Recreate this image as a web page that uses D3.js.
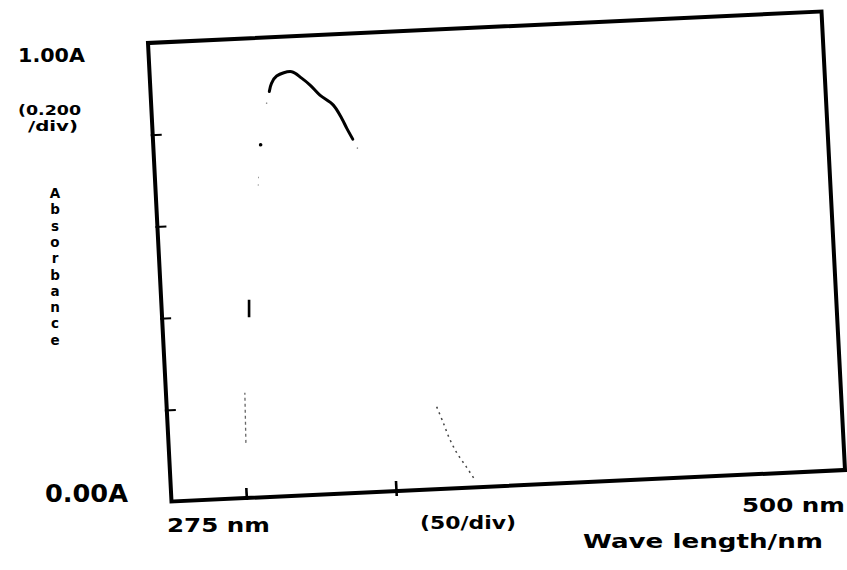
<!DOCTYPE html>
<html>
<head>
<meta charset="utf-8">
<script src="https://cdn.jsdelivr.net/npm/d3@7"></script>
<style>
  body { margin: 0; background: #fff; }
  text { font-family: 'DejaVu Sans', sans-serif; font-weight: bold; fill: #000; }
</style>
</head>
<body>
<div id="chart"></div>
<script>
// axis range and tick marks
var wlRange   = [275, 500];
var absRange  = [0, 1];
var wlTicks   = [300, 350];
var absTicks  = [0.2, 0.4, 0.6, 0.8];

// visible part of the peak (wavelength nm / absorbance)
var peakWl  = [314.6, 315.5, 317.3, 322.4, 325.6, 328.3, 331.4, 335.7, 338.3, 339.8, 341.6];
var peakAbs = [0.882, 0.900, 0.915, 0.923, 0.908, 0.892, 0.869, 0.846, 0.816, 0.794, 0.770];

// faint fragments of the rising edge
var riseLowWl   = [300.8, 301.3];
var riseLowAbs  = [0.120, 0.229];
var riseMidWl   = [304.0, 304.3];
var riseMidAbs  = [0.393, 0.431];
var riseHighWl  = [309.3, 309.6];
var riseHighAbs = [0.678, 0.701];
var specksWl    = [310.8, 313.5, 343.0];
var specksAbs   = [0.767, 0.857, 0.750];

// faint fragment of the falling edge
var fallWl  = [365.0, 366.8, 368.7, 370.9, 373.8, 376.5];
var fallAbs = [0.179, 0.146, 0.109, 0.077, 0.046, 0.016];

drawSpectrum();

function drawSpectrum() {

  var w = 847;
  var h = 570;
  var W = 673.5;
  var H = 458.5;

  var svg = d3.select('#chart').append('svg')
              .attr('width', w)
              .attr('height', h);

  svg.append('rect')
     .attr('width', w)
     .attr('height', h)
     .attr('fill', '#fff');

  // the scanned frame sits a little askew
  var plot = svg.append('g')
                .attr('transform', 'matrix(1,-0.04677,0.05125,1,148,43)');

  var x = d3.scaleLinear().domain(wlRange).range([0, W]);
  var y = d3.scaleLinear().domain(absRange).range([H, 0]);

  plot.append('g')
      .attr('class', 'yaxis')
      .call(d3.axisLeft(y).tickValues(absTicks).tickSize(-9).tickFormat(''))
      .call(function(g) { g.select('.domain').remove(); })
      .selectAll('line')
      .attr('x1', -2)
      .attr('stroke', '#000')
      .attr('stroke-width', 2);

  plot.append('g')
      .attr('class', 'xaxis')
      .attr('transform', 'translate(0,' + H + ')')
      .call(d3.axisBottom(x).tickValues(wlTicks).tickSize(-10).tickFormat(''))
      .call(function(g) { g.select('.domain').remove(); })
      .selectAll('line')
      .attr('y1', function(d) { return d == 350 ? 5 : 2 })
      .attr('stroke', '#000')
      .attr('stroke-width', 2.6);

  plot.append('rect')
      .attr('x', 0)
      .attr('y', 0)
      .attr('width', W)
      .attr('height', H)
      .attr('fill', 'none')
      .attr('stroke', '#000')
      .attr('stroke-width', 4);

  var line = d3.line()
               .x(function(d) { return x(d[0]) })
               .y(function(d) { return y(d[1]) })
               .curve(d3.curveCatmullRom);

  function pair(a, b) {
    return a.map(function(v, i) { return [v, b[i]] });
  }

  plot.append('path')
      .attr('d', line(pair(peakWl, peakAbs)))
      .attr('fill', 'none')
      .attr('stroke', '#000')
      .attr('stroke-width', 3)
      .attr('stroke-linejoin', 'round')
      .attr('stroke-linecap', 'round');

  plot.append('path')
      .attr('d', line(pair(riseLowWl, riseLowAbs)))
      .attr('fill', 'none')
      .attr('stroke', '#666')
      .attr('stroke-width', 1.3)
      .attr('stroke-dasharray', '3,3');

  plot.append('path')
      .attr('d', line(pair(riseMidWl, riseMidAbs)))
      .attr('fill', 'none')
      .attr('stroke', '#000')
      .attr('stroke-width', 2.6);

  plot.append('path')
      .attr('d', line(pair(riseHighWl, riseHighAbs)))
      .attr('fill', 'none')
      .attr('stroke', '#999')
      .attr('stroke-width', 1)
      .attr('stroke-dasharray', '1.5,6');

  plot.selectAll('.speck')
      .data(pair(specksWl, specksAbs))
      .enter()
      .append('circle')
      .attr('class', 'speck')
      .attr('cx', function(d) { return x(d[0]) })
      .attr('cy', function(d) { return y(d[1]) })
      .attr('r', function(d, i) { return i == 0 ? 1.8 : 0.8 })
      .attr('fill', function(d, i) { return i == 0 ? '#000' : '#888' });

  plot.append('path')
      .attr('d', line(pair(fallWl, fallAbs)))
      .attr('fill', 'none')
      .attr('stroke', '#444')
      .attr('stroke-width', 1.5)
      .attr('stroke-dasharray', '2,4');

  // labels are printed upright
  function label(txt, tx, ty, size, len) {
    svg.append('text')
       .attr('x', tx)
       .attr('y', ty)
       .attr('font-size', size)
       .attr('textLength', len)
       .attr('lengthAdjust', 'spacingAndGlyphs')
       .text(txt);
  }

  label('1.00A', 18, 62, 20, 67);
  label('(0.200', 18, 115, 14, 63);
  label('/div)', 28, 131, 14, 50);
  label('0.00A', 45, 502, 24, 83);
  label('275 nm', 167, 532, 19, 103);
  label('(50/div)', 420, 529, 18, 96);
  label('500 nm', 742, 512, 19, 103);
  label('Wave length/nm', 583, 548, 19, 240);

  var word = 'Absorbance'.split('');
  svg.selectAll('.vlabel')
     .data(word)
     .enter()
     .append('text')
     .attr('class', 'vlabel')
     .attr('x', 55)
     .attr('y', function(d, i) { return 198 + i * 16.3 })
     .attr('text-anchor', 'middle')
     .attr('font-size', 13.5)
     .text(function(d) { return d });
}
</script>
</body>
</html>
